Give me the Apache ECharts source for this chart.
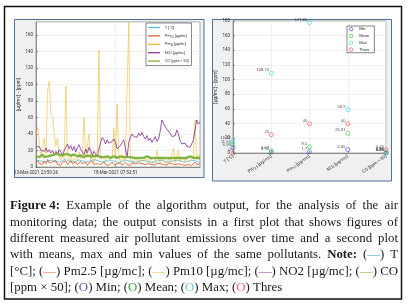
<!DOCTYPE html>
<html><head><meta charset="utf-8">
<script src="https://cdn.jsdelivr.net/npm/echarts@6/dist/echarts.min.js"></script>
<style>html,body{margin:0;padding:0;background:#fff}#c{width:409px;height:306px}</style>
</head><body><div id="c"></div>
<script>
// ---------- DATA ----------
const seriesNames = ['T [°C]', 'Pm2.5 [µg/mc]', 'Pm10 [µg/mc]', 'NO2 [µg/mc]', 'CO [ppm × 50]'];
const lineColors = ['#4DBEEE', '#D95319', '#EDB120', '#7E2F8E', '#77AC30'];

const tempT = [7,7.5,8,7,6.5,6,6.5,7.5,8,8.5, 8,7,6.5,6,6,7,8,8.5,9,8, 7,6.5,6,6.5,7,8,8.5,8,7.5,6.5,
  6,6,7,7.5,8.5,9,8.5,7.5,7,6.5, 6,6.5,7,8,8.5,9,8,7,6.5,6, 5.5,6,7,8,8.5,8,7.5,7,6.5,6,
  6,6.5,7,7.5,8,8,7.5,7,6.5,6, 5.5,6,6.5,7,8,8.5,8,7,6.5,6, 6,6.5,7,7.5,8,8.5,8,7,6.5,6, 6,6.5,7,7.5,8,8,7.5,7,6.5,6];
const pm25 = [5,8,4,6,3,7,4,9,5,3, 6,4,8,3,5,2,6,4,7,3, 5,8,4,2,6,3,5,7,4,3, 6,2,5,4,7,3,5,4,6,3,
  4,6,3,5,2,4,6,3,5,4, 3,5,2,4,6,3,4,2,5,3, 4,2,5,3,4,6,3,2,4,5, 3,4,2,5,3,4,6,3,4,2,
  5,3,4,2,3,5,4,2,3,4, 2,4,3,5,2,4,6,3,5,4];
const pm10 = [38,48,30,12,22,35,15,93,104,65, 62,40,25,35,12,8,14,10,98,12, 8,15,6,10,12,8,18,10,14,60,
  12,10,40,8,15,6,12,20,142,10, 8,12,6,14,10,8,12,47,10,76, 12,6,15,8,12,10,176,8,10,6,
  12,8,10,7,5,8,6,10,5,12, 7,8,6,20,10,5,12,7,8,5, 10,6,8,23,5,7,20,6,9,12, 6,10,5,8,7,12,57,10,15,8];
const no2 = [24,22,25,20,22,19,23,18,21,17, 20,15,19,16,21,18,14,20,24,28, 22,26,20,25,18,24,27,21,19,15,
  22,17,24,20,14,19,18,12,22,30, 36,33,28,33,29,27,31,34,30,22, 20,26,30,33,22,12,30,36,40,37,
  39,36,41,38,42,37,34,38,32,35, 30,33,37,31,34,44,57,53,49,46, 44,41,37,35,38,45,40,32,28,26,
  29,25,27,24,28,33,45,57,52,55];
const co50 = [13,14,12,13,15,12,14,13,12,14, 13,15,14,16,15,14,16,15,17,16, 15,14,16,15,14,13,15,14,13,12,
  13,14,12,13,14,13,15,14,13,12, 13,12,14,13,12,11,12,13,12,11, 12,13,11,12,13,12,11,12,10,11,
  12,11,10,11,12,11,12,13,12,11, 12,11,10,11,12,11,10,11,12,11, 10,11,12,11,10,11,12,11,10,11,
  12,11,12,13,12,11,12,11,10,11];
const timeTickIndex = [0, 48];
const timeTickLabels = ['13-Mar-2021 23:59:26', '18-Mar-2021 07:53:51'];

const statCategories = ['T [°C]', 'Pm2.5 [µg/mc]', 'Pm10 [µg/mc]', 'NO2 [µg/mc]', 'CO [ppm × 50]'];
const statNames = ['Min', 'Mean', 'Max', 'Thres'];
const statMin = [6.99, 0.92, 1.7, 4.65, 0.06];
const statMean = [11.53, 3.07, 8.5, 26.81, 0.45];
const statMax = [16.12, 108.73, 177.85, 58.9, 0.88];
const statThres = [0, 25, 40, 40, 4.29];
const statColors = ['#4646e8', '#2fc62f', '#2fd0e6', '#ec4a3c'];

const NB = '\u00a0';
const captionLines = [
  '{b|Figure' + NB + '4:} Example of the algorithm output, for the analysis of the air',
  'monitoring data; the output consists in a first plot that shows figures of',
  'different measured air pollutant emissions over time and a second plot',
  'with means, max and min values of the same pollutants. {b|Note:} ({t|—}) T',
  '[°C]; ({p|—}) Pm2.5 [µg/mc]; ({y|—}) Pm10 [µg/mc]; ({n|—}) NO2 [µg/mc]; ({c|—}) CO',
  '[ppm × 50]; ({mn|O}) Min; ({me|O}) Mean; ({mx|O}) Max; ({th|O}) Thres'
];

// ---------- HELPERS ----------
function richName(s) {
  return s.replace('Pm2.5', 'Pm{s|2.5}').replace('Pm10', 'Pm{s|10}').replace('NO2', 'NO{s|2}');
}
const seriesData = [tempT, pm25, pm10, no2, co50];
const idx = no2.map((_, i) => String(i));
const showTick = (i) => timeTickIndex.indexOf(i) >= 0;

const serifFont = '"Liberation Serif", "DejaVu Serif", serif';
const capColors = { t: '#5cb6e0', p: '#e48a5e', y: '#f2c46c', n: '#a06aae', c: '#8cc466',
  mn: '#5a5aa6', me: '#3f9c3f', mx: '#70c2e2', th: '#e26464' };
const cnv = document.createElement('canvas').getContext('2d');
function segs(w) {
  const out = []; const re = /\{(\w+)\|([^}]*)\}/g; let last = 0, m;
  while ((m = re.exec(w))) {
    if (m.index > last) out.push({ s: null, t: w.slice(last, m.index) });
    out.push({ s: m[1], t: m[2] }); last = re.lastIndex;
  }
  if (last < w.length) out.push({ s: null, t: w.slice(last) });
  return out;
}
function measure(w, fs) {
  let tot = 0;
  segs(w).forEach(g => { cnv.font = (g.s === 'b' ? 'bold ' : '') + fs + 'px ' + serifFont; tot += cnv.measureText(g.t).width; });
  return tot;
}
function buildCaption() {
  const L = 10, R = 398, W = R - L;
  let maxW = 0;
  cnv.font = '12px ' + serifFont; const sp12 = cnv.measureText(' ').width;
  captionLines.forEach(l => { const ws = l.split(' ');
    const w = ws.reduce((a, x) => a + measure(x, 12), 0) + sp12 * (ws.length - 1); maxW = Math.max(maxW, w); });
  const fs = Math.min(13.2, 12 * W / maxW);
  const rich = { b: { fontWeight: 'bold', fontSize: fs, fontFamily: serifFont, fill: '#1a1a1a' } };
  Object.keys(capColors).forEach(k => rich[k] = { fontSize: fs, fontFamily: serifFont, fill: capColors[k] });
  const els = [];
  captionLines.forEach((line, li) => {
    const ws = line.split(' ');
    const widths = ws.map(w => measure(w, fs));
    const sum = widths.reduce((a, b) => a + b, 0);
    cnv.font = fs + 'px ' + serifFont; const sp = cnv.measureText(' ').width;
    const justify = li < captionLines.length - 1;
    const gap = justify ? (W - sum) / (ws.length - 1) : sp;
    let x = L; const y = 206 + li * 16.3;
    ws.forEach((w, k) => {
      els.push({ type: 'text', x: x, y: y, z: 10,
        style: { text: w, fontSize: fs, fontFamily: serifFont, fill: '#1a1a1a', verticalAlign: 'middle', rich: rich } });
      x += widths[k] + gap;
    });
  });
  return els;
}

// ---------- CHART ----------
const chart = echarts.init(document.getElementById('c'), null, { renderer: 'canvas' });
const axisGray = '#555';
const gridLine = { show: true, lineStyle: { color: '#e6e6e6', width: 0.6 } };
const tickLbl = { fontSize: 4.5, color: '#333', fontFamily: 'Roboto, sans-serif' };
const subRich = { s: { fontSize: 3.2, verticalAlign: 'bottom', padding: [2, 0, 0, 0] } };

const option = {
  animation: false,
  graphic: [
    { type: 'rect', z: -20, shape: { x: 4.5, y: 6.5, width: 397, height: 292.5 }, style: { fill: '#fff', stroke: '#111', lineWidth: 1.5 } },
    { type: 'rect', z: -10, shape: { x: 14.5, y: 19.5, width: 189.5, height: 158 }, style: { fill: '#f0f0f0', stroke: '#4f6f9f', lineWidth: 1 } },
    { type: 'rect', z: -10, shape: { x: 212.5, y: 19.5, width: 179, height: 161.5 }, style: { fill: '#f0f0f0', stroke: '#4f6f9f', lineWidth: 1 } }
  ].concat(buildCaption()),
  grid: [
    { left: 36, top: 22, width: 164, height: 145, show: true, backgroundColor: '#fff', borderColor: '#777', borderWidth: 0.6 },
    { left: 233, top: 21, width: 153, height: 132, show: true, backgroundColor: '#fff', borderColor: '#777', borderWidth: 0.6 }
  ],
  legend: [
    { left: 146, top: 23, orient: 'vertical', selectedMode: false, data: seriesNames, icon: 'rect',
      itemWidth: 12, itemHeight: 1.2, itemGap: 3.4, itemTextGap: 3, padding: [2, 3, 2, 2],
      backgroundColor: '#fff', borderColor: '#333', borderWidth: 0.6,
      formatter: richName,
      textStyle: { fontSize: 3.6, color: '#222', lineHeight: 5, rich: { s: { fontSize: 2.6, lineHeight: 5, verticalAlign: 'bottom', padding: [2, 0, 0, 0] } } } },
    { left: 347, top: 26, orient: 'vertical', selectedMode: false, icon: 'circle',
      data: statNames.map((n, k) => ({ name: n, itemStyle: { color: 'rgba(255,255,255,0)', borderColor: statColors[k], borderWidth: 0.8 } })),
      itemWidth: 6, itemHeight: 3.5, itemGap: 2.5, itemTextGap: 2, padding: [1, 5, 1, 2],
      backgroundColor: '#fff', borderColor: '#333', borderWidth: 0.6,
      textStyle: { fontSize: 4, color: '#222', lineHeight: 4 } }
  ],
  xAxis: [
    { type: 'category', gridIndex: 0, data: idx, boundaryGap: false,
      axisLine: { lineStyle: { color: axisGray, width: 0.6 } },
      axisTick: { inside: true, length: 2, interval: showTick, lineStyle: { color: axisGray, width: 0.6 } },
      axisLabel: Object.assign({ interval: showTick, margin: 3, formatter: (v) => timeTickLabels[timeTickIndex.indexOf(Number(v))] || '' }, tickLbl),
      splitLine: { show: true, interval: showTick, lineStyle: { color: '#e6e6e6', width: 0.6 } } },
    { type: 'category', gridIndex: 1, data: statCategories, boundaryGap: false,
      axisLine: { lineStyle: { color: axisGray, width: 0.6 } },
      axisTick: { inside: true, length: 2, lineStyle: { color: axisGray, width: 0.6 } },
      axisLabel: Object.assign({ rotate: 35, margin: 3, formatter: richName, rich: subRich, interval: 0, hideOverlap: false }, tickLbl),
      splitLine: gridLine }
  ],
  yAxis: [
    { type: 'value', gridIndex: 0, min: 0, max: 176, interval: 20,
      name: '[µg/mc] - [ppm]', nameLocation: 'middle', nameGap: 12, nameTextStyle: { fontSize: 5, color: '#333' },
      axisLine: { show: true, lineStyle: { color: axisGray, width: 0.6 } },
      axisTick: { show: true, inside: true, length: 2, lineStyle: { color: axisGray, width: 0.6 } },
      axisLabel: Object.assign({ margin: 3, showMaxLabel: false }, tickLbl), splitLine: gridLine },
    { type: 'value', gridIndex: 1, min: 0, max: 180, interval: 20,
      name: '[µg/mc] - [ppm]', nameLocation: 'middle', nameGap: 11, nameTextStyle: { fontSize: 5, color: '#333' },
      axisLine: { show: true, lineStyle: { color: axisGray, width: 0.6 } },
      axisTick: { show: true, inside: true, length: 2, lineStyle: { color: axisGray, width: 0.6 } },
      axisLabel: Object.assign({ margin: 3 }, tickLbl), splitLine: gridLine }
  ],
  series: seriesNames.map((n, k) => ({
    name: n, type: 'line', xAxisIndex: 0, yAxisIndex: 0, data: seriesData[k], showSymbol: false, symbol: 'none',
    z: 2 + k, color: lineColors[k],
    lineStyle: { width: k === 4 ? 2.4 : 0.9, opacity: k === 2 ? 0.6 : 0.9 }
  })).concat([statMin, statMean, statMax, statThres].map((d, k) => ({
    name: statNames[k], type: 'scatter', xAxisIndex: 1, yAxisIndex: 1, data: d,
    symbol: 'circle', symbolSize: 4, z: 10,
    itemStyle: { color: 'rgba(255,255,255,0)', borderColor: statColors[k], borderWidth: 0.8 },
    label: { show: true, position: 'left', distance: 0, offset: [0, -3], fontSize: 4, color: '#222',
      formatter: p => String(p.value) }
  })))
};
chart.setOption(option);
</script></body></html>
